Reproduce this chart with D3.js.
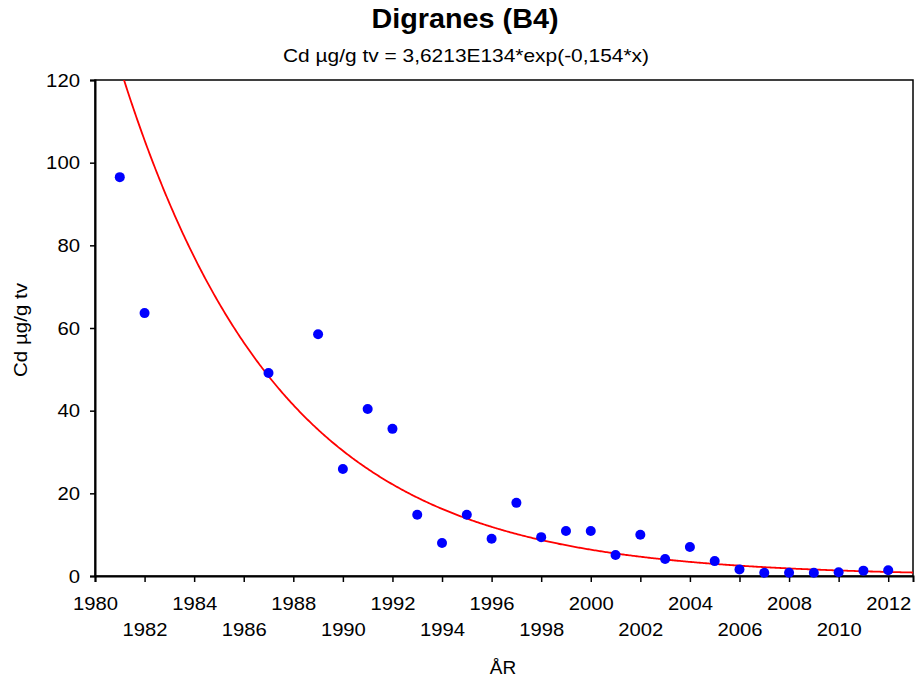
<!DOCTYPE html>
<html><head><meta charset="utf-8">
<script src="https://cdn.jsdelivr.net/npm/d3@7"></script>
<style>body{margin:0;background:#fff;}svg{display:block;font-family:"Liberation Sans",Arial,sans-serif;}</style>
</head><body>
<svg id="c" width="916" height="683"></svg>
<script>
const years = [1981,1982,1987,1989,1990,1991,1992,1993,1994,1995,1996,1997,1998,1999,2000,2001,2002,2003,2004,2005,2006,2007,2008,2009,2010,2011,2012];
const cdValues = [96.5,63.6,49.1,58.5,25.9,40.4,35.6,14.8,8.0,14.8,9.0,17.7,9.4,10.9,10.9,5.1,10.0,4.1,7.0,3.6,1.6,0.8,0.8,0.8,0.9,1.3,1.4];
const yTicks = [0,20,40,60,80,100,120];
const xTicks = [1980,1982,1984,1986,1988,1990,1992,1994,1996,1998,2000,2002,2004,2006,2008,2010,2012];
// exponential trendline (Excel): y = A*exp(B*x); shown as 3,6213E134*exp(-0,154*x)
const trendB = -0.1559;
const trendRefX = 1981.17, trendRefY = 120;
const trend = x => trendRefY * Math.exp(trendB * (x - trendRefX));

const FONT = "Liberation Sans, Arial, sans-serif";
const svg = d3.select("#c");
const L = 95, R = 913, T = 80, B = 576;
const x = d3.scaleLinear().domain([1980, 2013]).range([L, R]);
const y = d3.scaleLinear().domain([0, 120]).range([B, T]);

// title
svg.append("text").attr("x", 465).attr("y", 28).attr("text-anchor","middle")
  .attr("font-size", 27).attr("font-weight","bold")
  .attr("textLength", 187).attr("lengthAdjust","spacingAndGlyphs").text("Digranes (B4)");
svg.append("text").attr("x", 466).attr("y", 62).attr("text-anchor","middle")
  .attr("font-size", 19).attr("textLength", 366).attr("lengthAdjust","spacingAndGlyphs")
  .text("Cd µg/g tv = 3,6213E134*exp(-0,154*x)");

// frame
svg.append("rect").attr("x", L).attr("y", T).attr("width", R-L).attr("height", B-T)
  .attr("fill","none").attr("stroke","#000").attr("stroke-width",1.5);

// y axis
const ya = svg.append("g").attr("transform",`translate(${L},0)`)
  .call(d3.axisLeft(y).tickValues(yTicks).tickSize(5).tickPadding(10).tickFormat(d3.format("d")));
ya.select(".domain").attr("stroke-width",2);
ya.selectAll(".tick line").attr("stroke-width",1.5);
ya.selectAll("text").attr("font-size",19).attr("fill","#000").attr("font-family",FONT)
  .attr("textLength", d => String(d).length * 11.3).attr("lengthAdjust","spacingAndGlyphs");

// x axis
const xa = svg.append("g").attr("transform",`translate(0,${B})`)
  .call(d3.axisBottom(x).tickValues(xTicks).tickSize(6).tickPadding(8).tickFormat(d3.format("d")));
xa.select(".domain").attr("stroke-width",2);
xa.selectAll(".tick line").attr("stroke-width",1.5);
xa.selectAll("text").attr("font-size",19).attr("fill","#000").attr("font-family",FONT)
  .attr("textLength", 45).attr("lengthAdjust","spacingAndGlyphs")
  .attr("dy", 0).attr("y", (d,i) => i % 2 === 0 ? 34 : 60);

// axis titles
svg.append("text").attr("transform","translate(27,330) rotate(-90)").attr("text-anchor","middle")
  .attr("font-size",19).attr("textLength", 94).attr("lengthAdjust","spacingAndGlyphs").text("Cd µg/g tv");
svg.append("text").attr("x", 503).attr("y", 674).attr("text-anchor","middle")
  .attr("font-size",19).text("ÅR");

// trend curve
svg.append("clipPath").attr("id","clip").append("rect").attr("x",L).attr("y",T).attr("width",R-L).attr("height",B-T);
const xs = d3.range(1980, 2013.001, 0.05);
svg.append("path").datum(xs).attr("clip-path","url(#clip)")
  .attr("d", d3.line().x(d => x(d)).y(d => y(trend(d))))
  .attr("fill","none").attr("stroke","#ff0000").attr("stroke-width",1.8);

// points
svg.append("g").selectAll("circle").data(years).join("circle")
  .attr("cx", (d) => x(d)).attr("cy", (d,i) => y(cdValues[i])).attr("r", 5).attr("fill","#0000ff");
</script>
</body></html>
